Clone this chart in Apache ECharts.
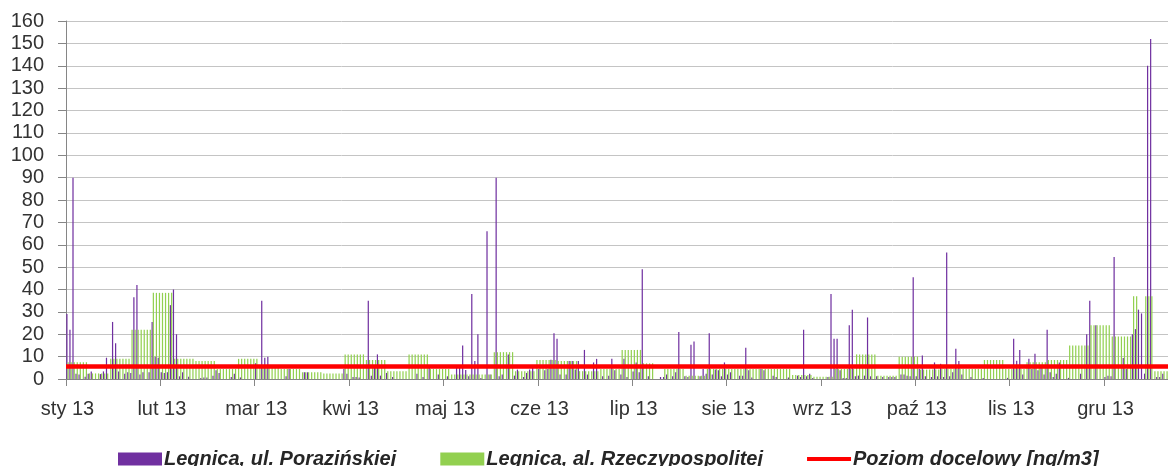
<!DOCTYPE html>
<html>
<head>
<meta charset="utf-8">
<script src="https://cdn.jsdelivr.net/npm/echarts@6/dist/echarts.min.js"></script>
<style>
html,body{margin:0;padding:0;background:#fff;}
#chart{width:1168px;height:466px;}
</style>
</head>
<body>
<div id="chart"></div>
<script>
// Month tick labels (one every 31 categories)
const monthLabels = ['sty 13','lut 13','mar 13','kwi 13','maj 13','cze 13','lip 13','sie 13','wrz 13','paź 13','lis 13','gru 13'];
const seriesNames = ['Legnica, ul. Porazińskiej','Legnica, al. Rzeczypospolitej','Poziom docelowy [ng/m3]'];
const targetLevel = 5.5;

// Daily values, Legnica ul. Porazińskiej (day 0 = 1 Jan 2013)
const porazinskiej = [
  29, 22, 90, 2.4, 2, null, 1, 2.4, 3.4, null,
  null, 2.2, 3.4, 9.5, null, 25.5, 16, 3.4, null, 2.4,
  3, 2.7, 36.5, 42, 2, 3, null, 3, 25.5, 10,
  9.5, 3, 2.7, 3, 33, 40, 20, 1.2, 3, null,
  1, null, null, null, 0.5, 0.7, 0.7, null, 1.5, 3.9,
  2.7, null, null, null, 0.9, 2.4, null, 0.7, null, null,
  null, null, 7, null, 35, 9.5, 10, null, null, null,
  null, null, 1.2, 4.5, null, null, null, null, 3, 3,
  null, null, null, null, null, null, null, null, null, null,
  null, 4.5, 2.4, null, 0.9, 0.9, 0.7, null, null, 35,
  1.5, 5, 11, 1.5, null, 2.7, null, 0.9, null, null,
  null, null, null, null, null, 2.4, null, 0.9, null, 5.4,
  null, null, 2, null, null, 1.2, null, null, 5, 5,
  15, 4, 1.2, 38, 8, 20, 0.5, null, 66, 2,
  null, 90, 1.2, 2, null, 11, null, 1.5, 4.2, null,
  0.9, 2.7, 4.2, 5.4, null, 4.5, null, 3.9, 4.5, 8.6,
  20.5, 18, 2, null, 2, 8, 8, 4.2, 8, null,
  13, 2, null, 7.4, 9, null, 1.2, null, 1.5, 9,
  3.9, null, 2, 9, 0.9, null, 3.4, 7.4, 3, 49,
  null, 1.2, null, null, null, 0.9, 0.9, 2, null, 1.2,
  3, 21, null, 1.2, 0.9, 15.3, 16.8, null, 1.2, 4.5,
  2.4, 20.5, 2, 4.2, 3.9, 1.2, 7.4, 2, 3, null,
  null, 1.5, 1.5, 14, 3.9, 0.7, null, null, 4.5, 3.9,
  null, null, 1.5, 0.9, null, null, null, 0.7, null, null,
  1.5, 0.9, 22, 1.2, 2.4, 0.5, null, null, null, null,
  0.9, 38, 18, 18, 3.9, 0.5, 0.5, 24, 31, 1.2,
  1.5, null, 1.5, 27.5, 1.2, null, 1.2, null, 0.9, null,
  0.9, 0.9, 0.9, null, 2, 2, 1.5, 1.2, 45.5, 1.2,
  4.5, 10.5, 1.2, null, 0.9, 7.4, 1.2, 6.8, 0.9, 56.5,
  1.2, 3, 13.5, 8, 2, null, null, 0.9, null, null,
  null, 0.5, null, null, null, null, null, null, null, 0.5,
  null, 18, 8.2, 13, 2, null, 9, 4.5, 11.3, 3.9,
  4.9, 2, 22, 3, 0.9, 2.4, 7.4, null, null, 0.5,
  null, null, null, 2.4, null, 20, 35, null, 24, null,
  null, 0.9, 1.5, 1.2, 54.5, null, null, 9.4, 4.5, null,
  20, 22.3, 31, 29.3, 2.4, 140, 152, null, 0.9, 0.9,
  2.4, null, null, null, null
];

// Daily values, Legnica al. Rzeczypospolitej (weekly samples, one row per week)
const rzeczypospolitej = [
  7.5, 7.5, 7.5, 7.5, 7.5, 7.5, 7.5,
  2.5, 2.5, 2.5, 2.5, 2.5, 2.5, 2.5,
  9, 9, 9, 9, 9, 9, 9,
  22, 22, 22, 22, 22, 22, 22,
  38.5, 38.5, 38.5, 38.5, 38.5, 38.5, 38.5,
  9, 9, 9, 9, 9, 9, 9,
  8, 8, 8, 8, 8, 8, 8,
  4.5, 4.5, 4.5, 4.5, 4.5, 4.5, 4.5,
  9, 9, 9, 9, 9, 9, 9,
  5, 5, 5, 5, 5, 5, 5,
  4.5, 4.5, 4.5, 4.5, 4.5, 4.5, 4.5,
  3, 3, 3, 3, 3, 3, 3,
  2.5, 2.5, 2.5, 2.5, 2.5, 2.5, 2.5,
  11, 11, 11, 11, 11, 11, 11,
  8.5, 8.5, 8.5, 8.5, 8.5, 8.5, 8.5,
  3.5, 3.5, 3.5, 3.5, 3.5, 3.5, 3.5,
  11, 11, 11, 11, 11, 11, 11,
  4.5, 4.5, 4.5, 4.5, 4.5, 4.5, 4.5,
  2, 2, 2, 2, 2, 2, 2,
  2, 2, 2, 2, 2, 2, 2,
  12, 12, 12, 12, 12, 12, 12,
  3.5, 3.5, 3.5, 3.5, 3.5, 3.5, 3.5,
  8.5, 8.5, 8.5, 8.5, 8.5, 8.5, 8.5,
  8, 8, 8, 8, 8, 8, 8,
  3.5, 3.5, 3.5, 3.5, 3.5, 3.5, 3.5,
  4.5, 4.5, 4.5, 4.5, 4.5, 4.5, 4.5,
  13, 13, 13, 13, 13, 13, 13,
  7, 7, 7, 7, null, null, null,
  4.5, 4.5, 4.5, 4.5, 4.5, 4.5, 4.5,
  1.5, 1.5, 1.5, 1.5, 1.5, 1.5, 1.5,
  4.5, 4.5, 4.5, 4.5, 4.5, 4.5, 4.5,
  4.5, 4.5, 4.5, 4.5, 4.5, 4.5, 4.5,
  4.5, 4.5, 4.5, 4.5, 4.5, 4.5, 4.5,
  4.5, 4.5, 4.5, 4.5, 4.5, 4.5, 4.5,
  1.8, 1.8, 1.8, 1.8, 1.8, 1.8, 1.8,
  1, 1, 1, 1, 1, 1, 1,
  4.5, 4.5, 4.5, 4.5, 4.5, 4.5, 4.5,
  11, 11, 11, 11, 11, 11, 11,
  1.5, 1.5, 1.5, 1.5, 1.5, 1.5, 1.5,
  10, 10, 10, 10, 10, 10, 10,
  4.2, 4.2, 4.2, 4.2, 4.2, 4.2, 4.2,
  4.5, 4.5, 4.5, 4.5, 4.5, 4.5, 4.5,
  4.5, 4.5, 4.5, 4.5, 4.5, 4.5, 4.5,
  8.5, 8.5, 8.5, 8.5, 8.5, 8.5, 8.5,
  4.5, 4.5, 4.5, 4.5, 4.5, 4.5, 4.5,
  7.5, 7.5, 7.5, 7.5, 7.5, 7.5, 7.5,
  8.5, 8.5, 8.5, 8.5, 8.5, 8.5, 8.5,
  15, 15, 15, 15, 15, 15, 15,
  24, 24, 24, 24, 24, 24, 24,
  19, 19, 19, 19, 19, 19, 19,
  37, 37, null, null, 37, 37, 37,
  3.5, 3.5, 3.5, 3.5, 3.5, 3.5, 3.5,
  3.5
];

// Day categories for 2013
const days = [];
for (let i = 0; i < 365; i++) {
  const d = new Date(Date.UTC(2013, 0, 1 + i));
  days.push(d.toISOString().slice(0, 10));
}
// the reference picture is cropped on the right: last visible category index
const lastVisibleDay = 361;

const chart = echarts.init(document.getElementById('chart'), null, {renderer: 'canvas'});
const axisFont = "'Liberation Sans', Arial, sans-serif";
const legendFont = "'Liberation Sans', Arial, sans-serif";

chart.setOption({
  animation: false,
  backgroundColor: '#ffffff',
  grid: {left: 66, right: 0, top: 21, bottom: 87, containLabel: false},
  legend: {
    left: 113, top: 444,
    itemWidth: 44, itemHeight: 13, itemGap: 44,
    selectedMode: false,
    textStyle: {fontFamily: legendFont, fontSize: 20, fontWeight: 'bold', fontStyle: 'italic', color: '#262626', padding: [0,0,0,-3]},
    data: [
      {name: seriesNames[0], icon: 'rect'},
      {name: seriesNames[1], icon: 'rect'},
      {name: seriesNames[2], icon: 'path://M0,0 L44,0 L44,4 L0,4 Z'}
    ]
  },
  xAxis: {
    type: 'category',
    data: days,
    max: lastVisibleDay,
    boundaryGap: true,
    axisLine: {lineStyle: {color: '#868686', width: 1}},
    axisTick: {show: true, interval: 30, length: 7, lineStyle: {color: '#868686'}},
    axisLabel: {
      interval: 30,
      margin: 20,
      fontFamily: axisFont, fontSize: 20, color: '#333333',
      formatter: function (v, idx) { return monthLabels[Math.round(idx / 31)] || ''; }
    },
    splitLine: {show: false}
  },
  yAxis: {
    type: 'value',
    min: 0, max: 160, interval: 10,
    axisLine: {show: true, lineStyle: {color: '#868686', width: 1}},
    axisTick: {show: true, length: 8, lineStyle: {color: '#868686'}},
    axisLabel: {margin: 22, fontFamily: axisFont, fontSize: 20, color: '#333333'},
    splitLine: {lineStyle: {color: '#C4C4C4', width: 1}}
  },
  series: [
    {
      name: seriesNames[0], type: 'bar', data: porazinskiej,
      itemStyle: {color: '#7030A0'},
      barGap: '0%', barCategoryGap: '20%'
    },
    {
      name: seriesNames[1], type: 'bar', data: rzeczypospolitej,
      itemStyle: {color: '#92D050'},
      barGap: '0%', barCategoryGap: '20%'
    },
    {
      name: seriesNames[2], type: 'line', data: [],
      itemStyle: {color: '#FF0000'},
      lineStyle: {color: '#FF0000'},
      z: 5,
      markLine: {
        silent: true, symbol: 'none', animation: false,
        label: {show: false},
        lineStyle: {color: '#FF0000', width: 4.5, type: 'solid'},
        data: [{yAxis: targetLevel}]
      }
    }
  ]
});
</script>
</body>
</html>
